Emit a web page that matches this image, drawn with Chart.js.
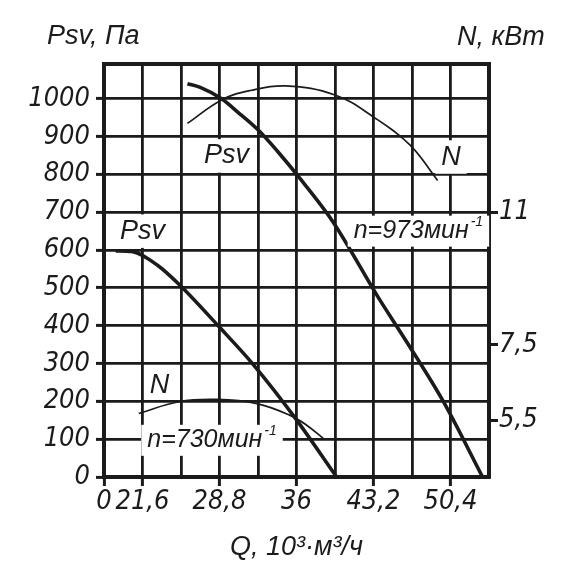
<!DOCTYPE html>
<html>
<head>
<meta charset="utf-8">
<script src="https://cdn.jsdelivr.net/npm/chart.js@4/dist/chart.umd.min.js"></script>
<style>
  html, body { margin: 0; padding: 0; background: #fff; }
  #wrap { width: 571px; height: 574px; }
</style>
</head>
<body>
<div id="wrap"><canvas id="fanChart" width="571" height="574"></canvas></div>
<script>
/* характеристики вентилятора: Q в 10^3 м3/ч, Psv в Па, N в кВт */
var qPsv973 = [25.8, 27.0, 29.0, 30.5, 32.4, 34.2, 36.3, 39.4, 43.6, 46.4, 49.7, 53.4];
var psv973  = [1040, 1030, 1000, 965, 918, 862, 790, 675, 477, 353, 201, 0];
var qN973   = [25.8, 29.0, 31.7, 35.0, 39.6, 43.2, 46.6, 49.2];
var n973    = [13.35, 13.97, 14.22, 14.34, 14.1, 13.52, 12.78, 11.84];

var qPsv730 = [19.1, 20.6, 23.0, 25.1, 28.7, 32.0, 35.9, 39.75];
var psv730  = [598, 596, 560, 507, 399, 296, 155, 0];
var qN730   = [21.25, 25.0, 28.6, 32.3, 35.4, 36.95, 38.5];
var n730    = [5.68, 5.99, 6.05, 5.94, 5.63, 5.37, 5.02];

/* деления осей (ось Q разорвана: первая линия подписана 0) */
var qTicks = [18, 21.6, 25.2, 28.8, 32.4, 36, 39.6, 43.2, 46.8, 50.4, 54];
var qTickLabels = ['0', '21,6', '', '28,8', '', '36', '', '43,2', '', '50,4', ''];
var psvTicks = [0, 100, 200, 300, 400, 500, 600, 700, 800, 900, 1000];
var nTicks = [5.5, 7.5, 11];
var nTickLabels = ['5,5', '7,5', '11'];

var INK = '#1b1b1b';
var NARROW = '"Liberation Sans Narrow", "DejaVu Sans Condensed", sans-serif';
var WIDE = '"Liberation Sans", Arial, sans-serif';

var toPoints = function(xs, ys) {
  return xs.map(function(x, i) { return { x: x, y: ys[i] }; });
};

// подписи кривых (в координатах графика)
var curveLabels = [
  { text: 'Psv', q: 29.45, p: 849, size: 27, box: true },
  { text: 'N', q: 50.45, p: 846, size: 27, box: true },
  { text: 'n=973мин', sup: '-1', q: 47.4, p: 650, size: 25, box: true },
  { text: 'Psv', q: 21.6, p: 650, size: 27, box: true },
  { text: 'N', q: 23.2, p: 243, size: 27, box: false },
  { text: 'n=730мин', sup: '-1', q: 28.1, p: 97, size: 25, box: true }
];

var labelsPlugin = {
  id: 'curveLabels',
  afterDatasetsDraw: function(chart) {
    var ctx = chart.ctx, xs = chart.scales.x, ys = chart.scales.y, area = chart.chartArea;
    ctx.save();
    // верхняя рамка
    ctx.strokeStyle = INK;
    ctx.lineWidth = 4;
    ctx.beginPath();
    ctx.moveTo(area.left - 2, area.top);
    ctx.lineTo(area.right + 2, area.top);
    ctx.stroke();

    curveLabels.forEach(function(l) {
      var cx = xs.getPixelForValue(l.q), cy = ys.getPixelForValue(l.p);
      ctx.font = 'italic ' + l.size + 'px ' + WIDE;
      var w = ctx.measureText(l.text).width, supW = 0;
      var supFont = 'italic ' + Math.round(l.size * 0.55) + 'px ' + WIDE;
      if (l.sup) {
        ctx.font = supFont;
        supW = ctx.measureText(l.sup).width + 2;
      }
      var total = w + supW, x0 = cx - total / 2;
      if (l.box) {
        ctx.fillStyle = '#fff';
        ctx.fillRect(x0 - 6, cy - l.size * 0.62, total + 12, l.size * 1.24);
      }
      ctx.fillStyle = INK;
      ctx.textBaseline = 'middle';
      ctx.textAlign = 'left';
      ctx.font = 'italic ' + l.size + 'px ' + WIDE;
      ctx.fillText(l.text, x0, cy);
      if (l.sup) {
        ctx.font = supFont;
        ctx.fillText(l.sup, x0 + w + 2, cy - l.size * 0.35);
      }
    });

    // названия осей сверху
    ctx.font = 'italic 27px ' + WIDE;
    ctx.textBaseline = 'alphabetic';
    ctx.fillText('Psv, Па', 47, 44);
    ctx.fillText('N, кВт', 457, 45);
    ctx.restore();
  }
};

var thick = function(data) {
  return { data: data, borderColor: INK, borderWidth: 3.6, pointRadius: 0,
           cubicInterpolationMode: 'monotone', yAxisID: 'y' };
};
var thin = function(data) {
  return { data: data, borderColor: INK, borderWidth: 1.7, pointRadius: 0,
           tension: 0.4, yAxisID: 'y2' };
};

new Chart(document.getElementById('fanChart'), {
  type: 'line',
  data: {
    datasets: [
      thick(toPoints(qPsv973, psv973)),
      thin(toPoints(qN973, n973)),
      thick(toPoints(qPsv730, psv730)),
      thin(toPoints(qN730, n730))
    ]
  },
  options: {
    responsive: false,
    animation: false,
    layout: { padding: { top: 64, left: 0, right: 0, bottom: 0 } },
    plugins: { legend: { display: false }, tooltip: { enabled: false } },
    scales: {
      x: {
        type: 'linear',
        min: 18, max: 54,
        afterBuildTicks: function(scale) {
          scale.ticks = qTicks.map(function(v) { return { value: v }; });
        },
        afterFit: function(scale) { scale.height = 97; },
        ticks: {
          autoSkip: false, maxRotation: 0, padding: 0, color: INK,
          font: { family: NARROW, size: 27, style: 'italic' },
          callback: function(v, i) { return qTickLabels[i]; }
        },
        grid: {
          color: INK, lineWidth: 2.8, tickLength: 9, tickWidth: 3,
          tickColor: function(c) { return qTickLabels[c.index] ? INK : 'rgba(0,0,0,0)'; }
        },
        border: { display: true, color: INK, width: 4 },
        title: {
          display: true, text: 'Q, 10³·м³/ч', color: INK,
          font: { family: WIDE, size: 27, style: 'italic' },
          padding: { top: 0, bottom: 10 }
        }
      },
      y: {
        position: 'left',
        min: 0, max: 1092,
        afterBuildTicks: function(scale) {
          scale.ticks = psvTicks.map(function(v) { return { value: v }; });
        },
        afterFit: function(scale) { scale.width = 104; },
        ticks: {
          padding: 6, color: INK,
          font: { family: NARROW, size: 27, style: 'italic' },
          callback: function(v) { return String(v); }
        },
        grid: { color: INK, lineWidth: 2.8, tickLength: 8, tickWidth: 3, tickColor: INK },
        border: { display: true, color: INK, width: 4 }
      },
      y2: {
        position: 'right',
        min: 4, max: 14.92,
        afterBuildTicks: function(scale) {
          scale.ticks = nTicks.map(function(v) { return { value: v }; });
        },
        afterFit: function(scale) { scale.width = 82; },
        ticks: {
          padding: 1, color: INK,
          font: { family: NARROW, size: 27, style: 'italic' },
          callback: function(v, i) { return nTickLabels[i]; }
        },
        grid: { drawOnChartArea: false, tickLength: 9, tickWidth: 3, tickColor: INK },
        border: { display: true, color: INK, width: 4 }
      }
    }
  },
  plugins: [labelsPlugin]
});
</script>
</body>
</html>
